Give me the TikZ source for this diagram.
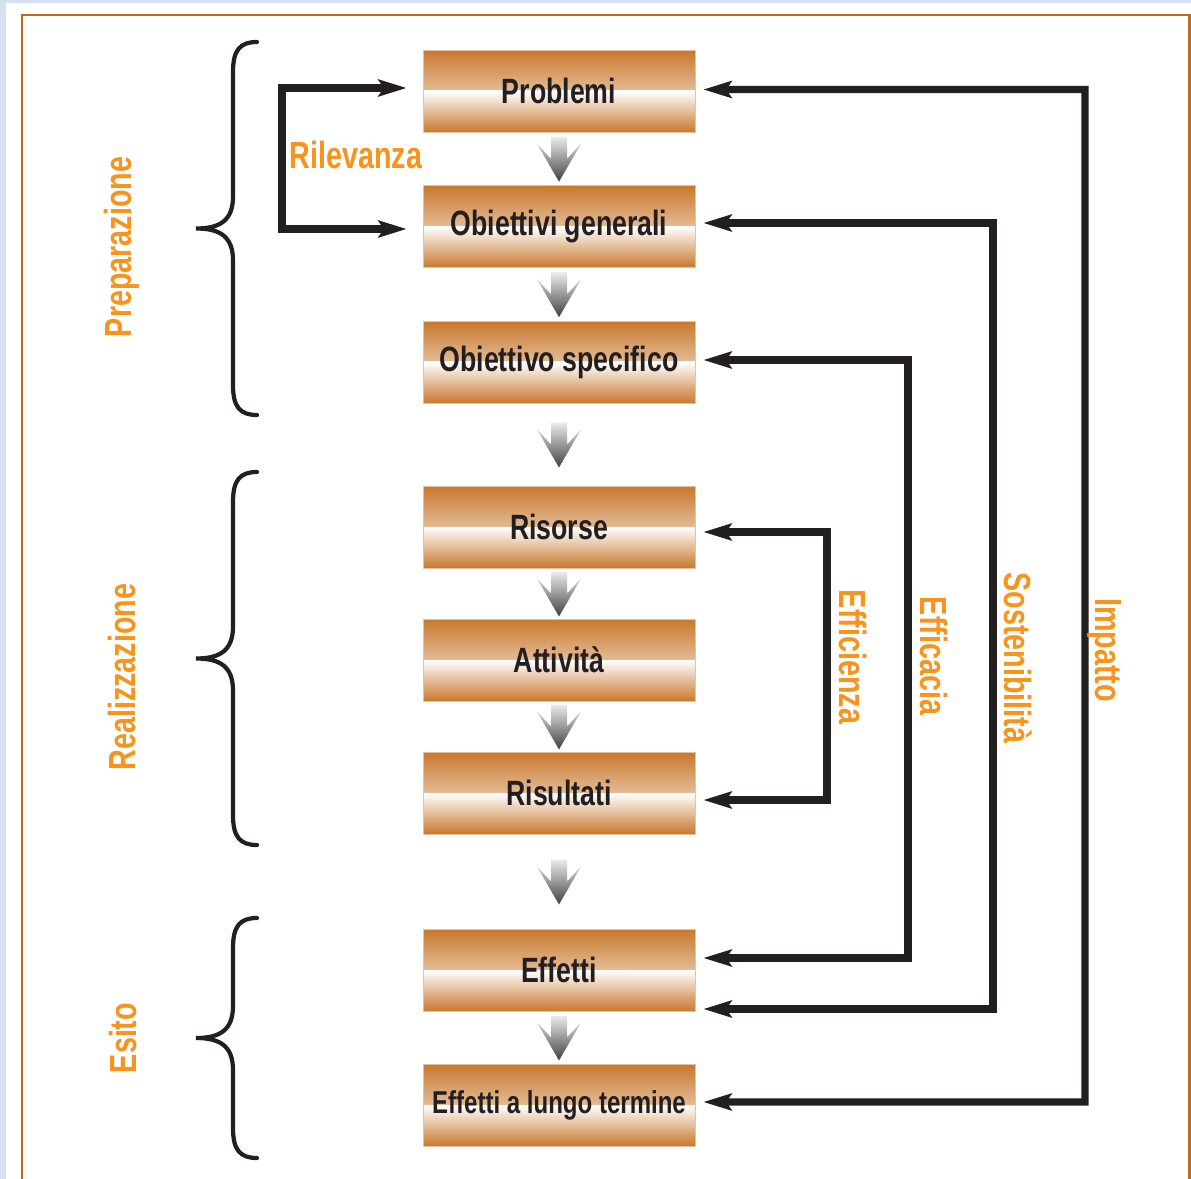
\documentclass[tikz,border=0pt]{standalone}
\usepackage{fontspec}
\setmainfont[FakeStretch=0.76]{Liberation Sans}
\usetikzlibrary{arrows.meta,calc}
\definecolor{boxorange}{HTML}{C8782D}
\definecolor{frameorange}{HTML}{C06C1E}
\definecolor{labelorange}{HTML}{F7941D}
\definecolor{inkdark}{HTML}{231F20}
\definecolor{pageblue}{HTML}{D6E0F1}
\newcommand{\phasebrace}[2]{\pgfmathsetmacro{\bmid}{(#1+#2)/2}\draw[phasebr] (257,#1) .. controls (240,#1) and (233,#1+8) .. (233,#1+30) -- (233,\bmid-32) .. controls (233,\bmid-8) and (220,\bmid) .. (196,\bmid) .. controls (220,\bmid) and (233,\bmid+8) .. (233,\bmid+32) -- (233,#2-30) .. controls (233,#2-8) and (240,#2) .. (257,#2);}
\newcommand{\flowarrow}[2]{\shade[top color=gray!15, bottom color=black!75, shift={($(#1.south)!0.5!(#2.north)$)}] (-8,-22) -- (8,-22) -- (8,0) -- (22,-15) -- (0,23) -- (-22,-15) -- (-8,0) -- cycle;}
\tikzset{stepbox/.style={rectangle, minimum width=5.44cm, minimum height=1.64cm, inner sep=0pt, draw=boxorange!45, line width=0.4pt, text=inkdark, font=\bfseries\fontsize{20}{24}\selectfont,
  path picture={\shade[top color=boxorange, bottom color=white] (path picture bounding box.north west) rectangle (path picture bounding box.east);
    \shade[top color=white, bottom color=boxorange] (path picture bounding box.west) rectangle (path picture bounding box.south east);}}}
\tikzset{phaselabel/.style={text=labelorange, inner sep=0pt, font=\bfseries\fontsize{21.5}{25}\selectfont}}
\tikzset{fbarrow/.style={draw=inkdark, line width=4pt, {Stealth[length=16pt,width=9.5pt,inset=3pt]}-{Stealth[length=16pt,width=9.5pt,inset=3pt]}, shorten <=0.16cm, shorten >=0.16cm}}
\tikzset{phasebr/.style={draw=inkdark, line width=2.4pt, line cap=round}}

\begin{document}
\begin{tikzpicture}[x=0.02cm, y=-0.02cm]
\useasboundingbox (0,0) rectangle (1191,1179);
\fill[pageblue] (0,0) rectangle (1191,1179);
\fill[white] (6,3) rectangle (1191,1179);
\draw[frameorange, line width=1.7pt] (22,1190) -- (22,15) -- (1189,15) -- (1189,1190);

% chain of steps
\node[stepbox] (prob) at (559,91) {Problemi};
\node[stepbox] (obgen) at (559,226.5) {Obiettivi generali};
\node[stepbox] (obspec) at (559,362) {Obiettivo specifico};
\node[stepbox] (ris) at (559,527) {Risorse};
\node[stepbox] (att) at (559,660) {Attività};
\node[stepbox] (rist) at (559,793) {Risultati};
\node[stepbox] (eff) at (559,970) {Effetti};
\node[stepbox, font=\bfseries\fontsize{18}{22}\selectfont] (efflt) at (559,1105) {Effetti a lungo termine};
\flowarrow{prob}{obgen}
\flowarrow{obgen}{obspec}
\flowarrow{obspec}{ris}
\flowarrow{ris}{att}
\flowarrow{att}{rist}
\flowarrow{rist}{eff}
\flowarrow{eff}{efflt}

% phases
\phasebrace{42}{415}
\phasebrace{472}{845}
\phasebrace{918}{1158}
\node[phaselabel, rotate=90] (lprep) at (122,247) {Preparazione};
\node[phaselabel, rotate=90] (lreal) at (122,677) {Realizzazione};
\node[phaselabel, rotate=90] (lesito) at (123,1038) {Esito};

% feedback loops
\draw[fbarrow, shorten <=0.32cm, shorten >=0.32cm] ($(prob.west)+(0,-3)$) -- (282,88) |- ($(obgen.west)+(0,2.5)$);
\draw[fbarrow] ($(ris.east)+(0,5)$) -- (827,532) |- ($(rist.east)+(0,7)$);
\draw[fbarrow] ($(obspec.east)+(0,-2)$) -- (908,360) |- ($(eff.east)+(0,-12)$);
\draw[fbarrow] ($(obgen.east)+(0,-3.5)$) -- (993,223) |- ($(eff.east)+(0,39)$);
\draw[fbarrow] ($(prob.east)+(0,-1.5)$) -- (1085,89.5) |- ($(efflt.east)+(0,-3)$);
\node[phaselabel] (lril) at (356,155) {Rilevanza};
\node[phaselabel, rotate=-90] (leffz) at (853,657) {Efficienza};
\node[phaselabel, rotate=-90] (leffc) at (934,656) {Efficacia};
\node[phaselabel, rotate=-90] (lsost) at (1018,658) {Sostenibilità};
\node[phaselabel, rotate=-90] (limp) at (1105,650) {Impatto};
\end{tikzpicture}
\end{document}
